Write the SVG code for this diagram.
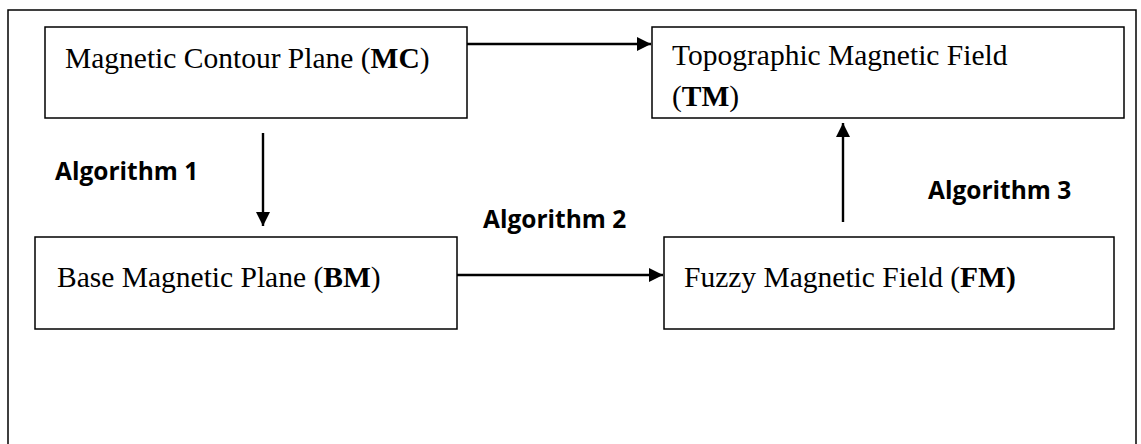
<svg xmlns="http://www.w3.org/2000/svg" width="1141" height="444" viewBox="0 0 1141 444">
  <style>
    .frame { fill: none; stroke: #000; stroke-width: 1.5; }
    .box { fill: #fff; stroke: #000; stroke-width: 1.5; }
    .label { font-family: "Liberation Serif", "Times New Roman", serif; font-size: 29.5px; fill: #000; }
    .b { font-weight: bold; }
    .algo { font-family: "Open Sans", "Liberation Sans", sans-serif; font-weight: bold; font-size: 24.5px; fill: #000; }
    .conn { stroke: #000; stroke-width: 2.4; fill: none; marker-end: url(#head); }
  </style>
  <defs>
    <marker id="head" viewBox="0 0 10 10" refX="10" refY="5" markerWidth="6" markerHeight="6" markerUnits="strokeWidth" orient="auto">
      <path d="M0,0 L10,5 L0,10 Z" fill="#000"/>
    </marker>
  </defs>

  <!-- outer frame, open at the bottom edge -->
  <rect class="frame" x="8" y="10" width="1128" height="460"/>

  <g id="connectors">
    <line class="conn" x1="467" y1="44" x2="651" y2="44"/>
    <line class="conn" x1="263" y1="133" x2="263" y2="226"/>
    <line class="conn" x1="457" y1="275" x2="663" y2="275"/>
    <line class="conn" x1="843" y1="222" x2="843" y2="123"/>
  </g>

  <g id="node-mc">
    <rect class="box" x="45" y="27" width="422" height="91"/>
    <text class="label" x="65" y="68">Magnetic Contour Plane (<tspan class="b">MC</tspan>)</text>
  </g>

  <g id="node-tm">
    <rect class="box" x="652" y="27" width="472" height="91"/>
    <text class="label" x="672" y="65">Topographic Magnetic Field</text>
    <text class="label" x="672" y="106">(<tspan class="b">TM</tspan>)</text>
  </g>

  <g id="node-bm">
    <rect class="box" x="35" y="237" width="422" height="92"/>
    <text class="label" x="57" y="287">Base Magnetic Plane (<tspan class="b">BM</tspan>)</text>
  </g>

  <g id="node-fm">
    <rect class="box" x="664" y="237" width="450" height="92"/>
    <text class="label" x="684" y="287">Fuzzy Magnetic Field (<tspan class="b">FM)</tspan></text>
  </g>

  <g id="edge-labels">
    <text class="algo" x="55" y="180">Algorithm 1</text>
    <text class="algo" x="483" y="228">Algorithm 2</text>
    <text class="algo" x="928" y="199">Algorithm 3</text>
  </g>
</svg>
